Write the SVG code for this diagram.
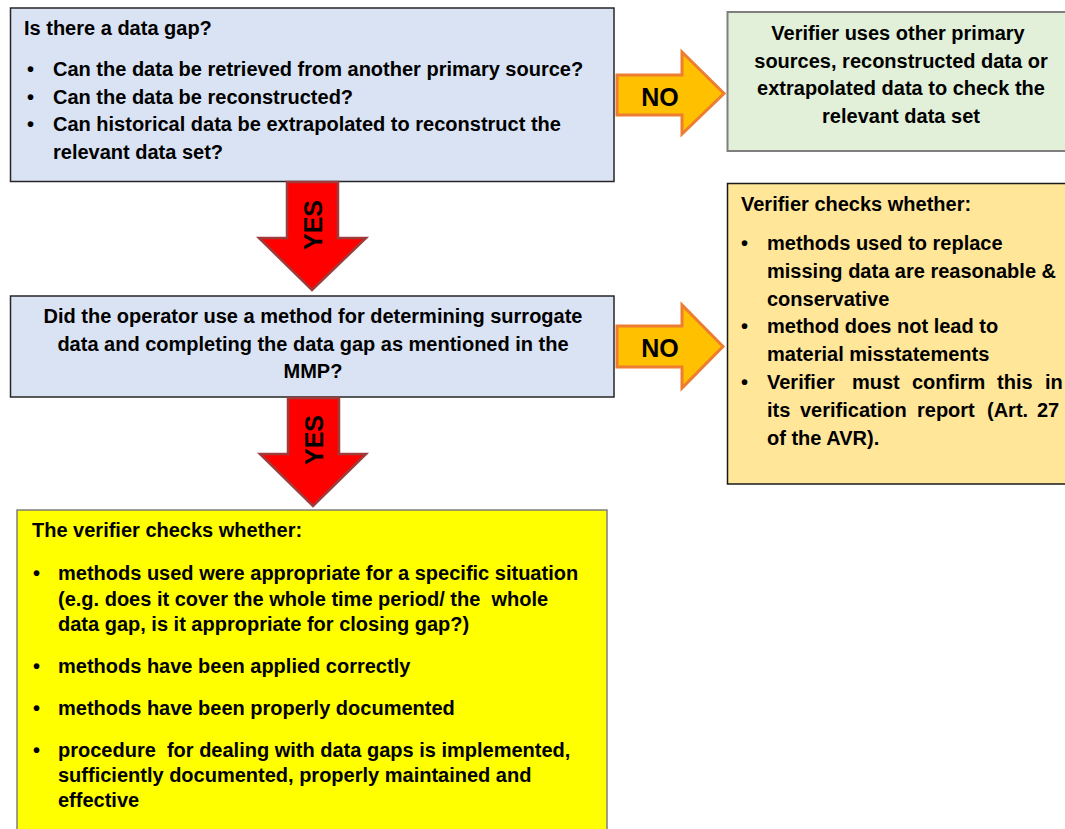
<svg xmlns="http://www.w3.org/2000/svg" width="1065" height="829" viewBox="0 0 1065 829">
<style>
text{font-family:"Liberation Sans",Arial,sans-serif;font-weight:bold;font-size:20px;fill:#000}
.c{text-anchor:middle}
.no{fill:#FFC000;stroke:#ED7D31;stroke-width:3;stroke-linejoin:miter}
.yes{fill:#FF0000;stroke:#9E3B3B;stroke-width:2.5}
.lbl{font-size:25px}
</style>
<rect width="1065" height="829" fill="#fff"/>
<g id="n1">
<rect x="10.5" y="8" width="603.5" height="173.5" fill="#DAE3F3" stroke="#262626" stroke-width="1.5"/>
<text x="24" y="35">Is there a data gap?</text>
<text x="27" y="76">•</text><text x="53" y="76">Can the data be retrieved from another primary source?</text>
<text x="27" y="104">•</text><text x="53" y="104">Can the data be reconstructed?</text>
<text x="27" y="131">•</text><text x="53" y="131">Can historical data be extrapolated to reconstruct the</text>
<text x="53" y="159">relevant data set?</text>
</g>
<g id="n2">
<rect x="727.5" y="12" width="345" height="139" fill="#E2F0D9" stroke="#7F7F7F" stroke-width="2"/>
<text class="c" x="898" y="40">Verifier uses other primary</text>
<text class="c" x="901" y="68">sources, reconstructed data or</text>
<text class="c" x="901" y="95">extrapolated data to check the</text>
<text class="c" x="901" y="123">relevant data set</text>
</g>
<g id="n3">
<rect x="727.5" y="183.5" width="345" height="300.5" fill="#FFE699" stroke="#1a1a1a" stroke-width="1.5"/>
<text x="741" y="211">Verifier checks whether:</text>
<text x="741" y="250">•</text><text x="767" y="250">methods used to replace</text>
<text x="767" y="278">missing data are reasonable &amp;</text>
<text x="767" y="306">conservative</text>
<text x="741" y="333">•</text><text x="767" y="333">method does not lead to</text>
<text x="767" y="361">material misstatements</text>
<text x="741" y="389">•</text><text y="389"><tspan x="767">Verifier</tspan><tspan x="852">must</tspan><tspan x="912">confirm</tspan><tspan x="997">this</tspan><tspan x="1045">in</tspan></text>
<text y="417"><tspan x="767">its</tspan><tspan x="800">verification</tspan><tspan x="917">report</tspan><tspan x="987">(Art.</tspan><tspan x="1037">27</tspan></text>
<text x="767" y="445">of the AVR).</text>
</g>
<g id="n4">
<rect x="10.5" y="296" width="603.5" height="101" fill="#DAE3F3" stroke="#262626" stroke-width="1.5"/>
<text class="c" x="313" y="323">Did the operator use a method for determining surrogate</text>
<text class="c" x="313" y="351">data and completing the data gap as mentioned in the</text>
<text class="c" x="313" y="378">MMP?</text>
</g>
<g id="n5">
<rect x="17" y="510" width="590" height="330" fill="#FFFF00" stroke="#7F7F7F" stroke-width="1.5"/>
<text x="32" y="537">The verifier checks whether:</text>
<text x="33" y="580">•</text><text x="58" y="580">methods used were appropriate for a specific situation</text>
<text x="58" y="606" xml:space="preserve">(e.g. does it cover the whole time period/ the  whole</text>
<text x="58" y="631">data gap, is it appropriate for closing gap?)</text>
<text x="33" y="673">•</text><text x="58" y="673">methods have been applied correctly</text>
<text x="33" y="715">•</text><text x="58" y="715">methods have been properly documented</text>
<text x="33" y="757">•</text><text x="58" y="757" xml:space="preserve">procedure  for dealing with data gaps is implemented,</text>
<text x="58" y="782">sufficiently documented, properly maintained and</text>
<text x="58" y="807">effective</text>
</g>
<g id="connectors">
<g id="no1">
<polygon class="no" points="617,75 682,75 682,52 724,93.5 682,134 682,115 617,115"/>
<text class="c lbl" x="660" y="106">NO</text>
</g>
<g id="no2">
<polygon class="no" points="617,326 682,326 682,305 723,346.5 682,388 682,367 617,367"/>
<text class="c lbl" x="660" y="357">NO</text>
</g>
<g id="yes1">
<polygon class="yes" points="287,182 338,182 338,238 366,238 312,290 259,238 287,238"/>
<text class="c lbl" transform="translate(322,225) rotate(-90)">YES</text>
</g>
<g id="yes2">
<polygon class="yes" points="288,398 339,398 339,454 366,454 313,506 260,454 288,454"/>
<text class="c lbl" transform="translate(323,440) rotate(-90)">YES</text>
</g>
</g>
</svg>
